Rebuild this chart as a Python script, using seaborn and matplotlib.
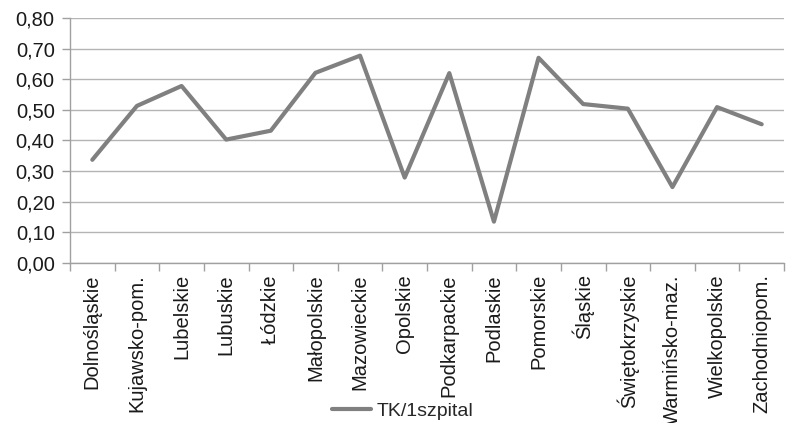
import matplotlib
matplotlib.use("Agg")
import matplotlib.pyplot as plt
from matplotlib.ticker import FixedLocator, FuncFormatter
import seaborn as sns
import pandas as pd

regions = ["Dolnośląskie", "Kujawsko-pom.", "Lubelskie", "Lubuskie", "Łódzkie",
           "Małopolskie", "Mazowieckie", "Opolskie", "Podkarpackie", "Podlaskie",
           "Pomorskie", "Śląskie", "Świętokrzyskie", "Warmińsko-maz.",
           "Wielkopolskie", "Zachodniopom."]
tk_per_hospital = [0.337, 0.513, 0.578, 0.403, 0.432, 0.621, 0.677, 0.279,
                   0.620, 0.135, 0.670, 0.519, 0.504, 0.248, 0.509, 0.453]
series_name = "TK/1szpital"

sns.set_theme(style="white")
plt.rcParams["font.family"] = ["Liberation Sans", "DejaVu Sans"]

df = pd.DataFrame({"region": regions, "value": tk_per_hospital})
df["pos"] = range(len(df))

fig = plt.figure(figsize=(7.9, 4.23), dpi=100)
ax = fig.add_axes([70 / 790, 1 - 263 / 423, 714 / 790, 245 / 423])

sns.lineplot(data=df, x="pos", y="value", ax=ax, color="#808080",
             linewidth=3.0, sort=False, label=series_name)

ax.set_xlim(-0.5, len(regions) - 0.5)
ax.set_ylim(0, 0.8)
ax.set_yticks([i / 10 for i in range(9)])
ax.yaxis.set_major_formatter(FuncFormatter(lambda v, _: f"{v:.2f}".replace(".", ",")))
ax.grid(axis="y", color="#b4b4b4", linewidth=1.0)
ax.set_axisbelow(True)

ax.set_xticks(df["pos"])
ax.set_xticklabels(regions, rotation=90, va="top", ha="center")
ax.xaxis.set_minor_locator(FixedLocator([i - 0.5 for i in range(len(regions) + 1)]))
ax.tick_params(axis="x", which="major", length=0, pad=8, labelsize=14.5, colors="#1a1a1a")
ax.tick_params(axis="x", which="minor", length=6, width=1, color="#a0a0a0", bottom=True)
ax.tick_params(axis="y", which="major", length=6, width=1, color="#a0a0a0", left=True,
               labelsize=14.5, labelcolor="#1a1a1a", pad=5)

for side in ("top", "right"):
    ax.spines[side].set_visible(False)
for side in ("left", "bottom"):
    ax.spines[side].set_color("#a0a0a0")
    ax.spines[side].set_linewidth(1.0)

ax.set_xlabel("")
ax.set_ylabel("")

leg = ax.legend(loc="center", bbox_to_anchor=(403 / 790, 1 - 411 / 423),
                bbox_transform=fig.transFigure, frameon=False, handlelength=2.0,
                handletextpad=0.3, borderpad=0,
                prop={"family": ["Liberation Sans Narrow", "Liberation Sans"], "size": 14})
leg.set_zorder(5)

fig.savefig("out.png", dpi=100)
